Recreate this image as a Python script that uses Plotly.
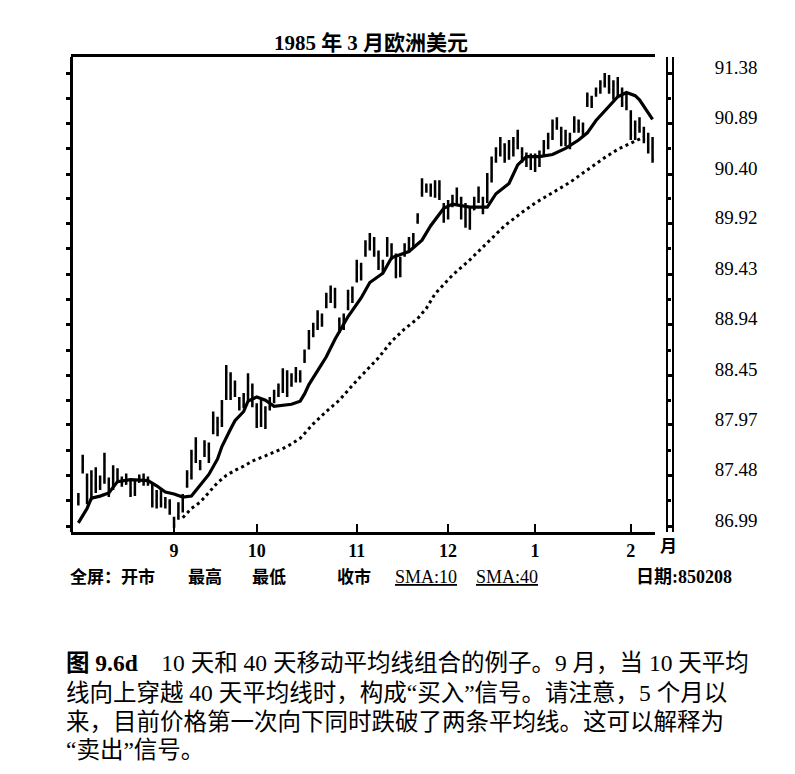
import plotly.graph_objects as go

# trading day index 0 = 1 Aug 1984, last bar = 8 Feb 1985
bar_days = list(range(1, 134))

bar_open = [87.22, 87.55, 87.45, 87.30, 87.40, 87.38, 87.45, 87.40, 87.38, 87.50,
            87.44, 87.40, 87.42, 87.32, 87.42, 87.44, 87.42, 87.38, 87.24, 87.26,
            87.20, 87.22, 87.06, 87.08, 87.16, 87.38, 87.48, 87.65, 87.60, 87.68,
            87.76, 87.92, 88.00, 88.00, 88.25, 88.45, 88.30, 88.20, 88.16, 88.26,
            88.34, 88.14, 88.00, 88.10, 88.14, 88.20, 88.26, 88.32, 88.45, 88.36,
            88.42, 88.46, 88.60, 88.72, 88.84, 88.92, 89.00, 89.12, 89.20, 89.26,
            88.98, 88.92, 89.10, 89.22, 89.38, 89.50, 89.62, 89.70, 89.76, 89.62,
            89.48, 89.62, 89.70, 89.58, 89.44, 89.62, 89.68, 89.72, 89.94, 90.22,
            90.28, 90.22, 90.26, 90.20, 90.08, 89.98, 90.10, 90.14, 90.16, 90.02,
            89.90, 90.06, 90.14, 90.16, 90.16, 90.36, 90.54, 90.60, 90.68, 90.56,
            90.62, 90.70, 90.62, 90.56, 90.52, 90.50, 90.48, 90.60, 90.68, 90.76,
            90.86, 90.82, 90.70, 90.74, 90.84, 90.88, 90.82, 91.08, 91.12, 91.18,
            91.22, 91.28, 91.32, 91.20, 91.28, 91.20, 91.10, 90.96, 90.80, 90.86,
            90.80, 90.72, 90.66]
bar_high = [87.31, 87.68, 87.50, 87.53, 87.56, 87.48, 87.70, 87.46, 87.58, 87.55,
            87.47, 87.50, 87.45, 87.44, 87.49, 87.50, 87.47, 87.41, 87.34, 87.35,
            87.27, 87.25, 87.08, 87.22, 87.30, 87.53, 87.73, 87.85, 87.63, 87.82,
            87.80, 88.10, 88.05, 88.21, 88.55, 88.48, 88.40, 88.24, 88.28, 88.47,
            88.37, 88.18, 88.21, 88.15, 88.24, 88.31, 88.37, 88.52, 88.50, 88.47,
            88.53, 88.50, 88.70, 88.89, 88.96, 89.08, 89.05, 89.25, 89.32, 89.30,
            89.01, 89.05, 89.28, 89.31, 89.57, 89.54, 89.76, 89.83, 89.79, 89.66,
            89.57, 89.79, 89.73, 89.63, 89.60, 89.73, 89.79, 89.83, 90.02, 90.36,
            90.31, 90.31, 90.34, 90.34, 90.12, 90.15, 90.20, 90.27, 90.18, 90.12,
            90.08, 90.18, 90.28, 90.18, 90.41, 90.57, 90.66, 90.76, 90.70, 90.73,
            90.76, 90.83, 90.66, 90.61, 90.60, 90.60, 90.63, 90.73, 90.80, 90.93,
            90.95, 90.86, 90.83, 90.80, 90.96, 90.93, 90.90, 91.19, 91.16, 91.24,
            91.31, 91.38, 91.36, 91.31, 91.34, 91.24, 91.18, 91.02, 90.92, 90.95,
            90.86, 90.80, 90.76]
bar_low = [87.19, 87.50, 87.20, 87.24, 87.31, 87.34, 87.40, 87.27, 87.34, 87.41,
           87.37, 87.39, 87.27, 87.28, 87.41, 87.38, 87.38, 87.17, 87.16, 87.17,
           87.16, 87.10, 86.97, 87.05, 87.12, 87.36, 87.44, 87.60, 87.53, 87.66,
           87.60, 87.88, 87.86, 87.95, 88.21, 88.21, 88.24, 88.11, 88.13, 88.21,
           88.14, 87.94, 87.95, 87.93, 88.11, 88.18, 88.24, 88.28, 88.24, 88.34,
           88.38, 88.38, 88.57, 88.70, 88.82, 88.89, 88.92, 89.10, 89.15, 89.10,
           88.86, 88.89, 89.08, 89.15, 89.35, 89.37, 89.60, 89.66, 89.60, 89.47,
           89.44, 89.60, 89.57, 89.39, 89.40, 89.60, 89.64, 89.68, 89.92, 90.18,
           90.22, 90.18, 90.17, 90.15, 89.93, 89.96, 90.08, 90.10, 89.96, 89.88,
           89.86, 90.05, 90.12, 90.01, 90.12, 90.32, 90.51, 90.57, 90.51, 90.54,
           90.57, 90.64, 90.51, 90.47, 90.44, 90.42, 90.47, 90.57, 90.64, 90.73,
           90.83, 90.67, 90.67, 90.64, 90.80, 90.80, 90.76, 91.05, 91.04, 91.15,
           91.18, 91.24, 91.18, 91.12, 91.15, 91.05, 91.02, 90.73, 90.73, 90.80,
           90.70, 90.60, 90.51]
bar_close = [87.28, 87.62, 87.25, 87.48, 87.36, 87.44, 87.62, 87.30, 87.52, 87.45,
             87.42, 87.46, 87.30, 87.40, 87.46, 87.42, 87.40, 87.22, 87.28, 87.20,
             87.24, 87.12, 87.00, 87.18, 87.26, 87.50, 87.68, 87.80, 87.56, 87.78,
             87.64, 88.05, 87.90, 88.18, 88.48, 88.28, 88.36, 88.14, 88.25, 88.42,
             88.18, 87.98, 88.16, 87.96, 88.21, 88.28, 88.34, 88.48, 88.28, 88.44,
             88.50, 88.40, 88.68, 88.86, 88.92, 89.04, 88.95, 89.22, 89.28, 89.14,
             88.90, 89.02, 89.24, 89.28, 89.52, 89.42, 89.72, 89.80, 89.64, 89.50,
             89.54, 89.76, 89.60, 89.42, 89.56, 89.70, 89.76, 89.80, 90.00, 90.32,
             90.25, 90.28, 90.20, 90.30, 89.96, 90.10, 90.16, 90.22, 90.00, 89.92,
             90.02, 90.14, 90.24, 90.04, 90.36, 90.52, 90.62, 90.72, 90.55, 90.68,
             90.72, 90.78, 90.54, 90.50, 90.56, 90.46, 90.58, 90.70, 90.76, 90.88,
             90.90, 90.70, 90.78, 90.68, 90.92, 90.84, 90.88, 91.16, 91.08, 91.22,
             91.28, 91.34, 91.22, 91.26, 91.20, 91.08, 91.05, 90.78, 90.88, 90.82,
             90.74, 90.64, 90.55]

# 10-day average
sma10_days = [1, 3, 4, 6, 8, 10, 13, 17, 19, 21, 23, 25, 27, 28, 29, 31, 33, 34, 36, 37,
              39, 40, 42, 44, 46, 50, 52, 53, 54, 56, 58, 60, 63, 66, 68, 71, 73, 77, 80, 82,
              85, 87, 91, 95, 97, 100, 102, 104, 107, 110, 113, 116, 118, 120, 122, 125, 127,
              129, 130, 132, 133]
sma10_vals = [87.02, 87.16, 87.26, 87.28, 87.31, 87.42, 87.44, 87.43, 87.38, 87.32, 87.30,
              87.27, 87.28, 87.33, 87.39, 87.49, 87.64, 87.76, 87.93, 88.01, 88.10, 88.20,
              88.24, 88.21, 88.15, 88.17, 88.20, 88.27, 88.36, 88.50, 88.63, 88.80, 89.02,
              89.20, 89.35, 89.44, 89.59, 89.65, 89.76, 89.90, 90.07, 90.11, 90.08, 90.08,
              90.21, 90.31, 90.49, 90.57, 90.57, 90.59, 90.65, 90.73, 90.80, 90.92, 91.01,
              91.15, 91.19, 91.16, 91.12, 91.00, 90.93]

# 40-day average
sma40_days = [25, 27, 29, 31, 33, 35, 37, 39, 41, 44, 49, 52, 55, 58, 61, 65, 70, 73, 76,
              79, 81, 83, 87, 91, 95, 99, 103, 106, 110, 114, 118, 122, 125, 128, 131]
sma40_vals = [87.07, 87.16, 87.22, 87.32, 87.41, 87.48, 87.53, 87.57, 87.62, 87.67, 87.76,
              87.84, 87.98, 88.10, 88.21, 88.40, 88.62, 88.78, 88.90, 89.00, 89.10, 89.24,
              89.42, 89.57, 89.73, 89.90, 90.03, 90.12, 90.22, 90.32, 90.44, 90.56, 90.64,
              90.70, 90.76]

month_days = [23, 42, 65, 86, 106, 128]
month_labels = ['9', '10', '11', '12', '1', '2']

price_ticks = [86.99, 87.48, 87.97, 88.45, 88.94, 89.43, 89.92, 90.40, 90.89, 91.38]
price_labels = ['86.99', '87.48', '87.97', '88.45', '88.94', '89.43', '89.92', '90.40',
                '90.89', '91.38']

caption_lines = [
    '<b>图 9.6d</b>\u00a0\u00a0\u00a0 10 天和 40 天移动平均线组合的例子。9 月，当 10 天平均',
    '线向上穿越 40 天平均线时，构成“买入”信号。请注意，5 个月以',
    '来，目前价格第一次向下同时跌破了两条平均线。这可以解释为',
    '“卖出”信号。',
]

W, H = 795, 774
L, T = 71, 57          # plot area left / top in pixels
RIGHT, BOTTOM = 673, 532
PW, PH = RIGHT - L, BOTTOM - T
YR = [86.932, 91.535]
XR = [-0.69, 133.56]

SERIF = 'Liberation Serif, Noto Sans CJK SC'
CJK = 'Liberation Serif, Noto Sans CJK SC'


def px_x(p):
    return (p - L) / PW


def px_y(p):
    return (BOTTOM - p) / PH


minor_ticks = [(a + b) / 2 for a, b in zip(price_ticks[:-1], price_ticks[1:])]
all_ticks = sorted(price_ticks + minor_ticks)

fig = go.Figure()
fig.add_trace(go.Ohlc(x=bar_days, open=bar_open, high=bar_high, low=bar_low, close=bar_close,
                      increasing=dict(line=dict(color='black', width=2.5)),
                      decreasing=dict(line=dict(color='black', width=2.5)),
                      tickwidth=0.3, showlegend=False, hoverinfo='skip'))
fig.add_trace(go.Scatter(x=sma10_days, y=sma10_vals, mode='lines', yaxis='y2',
                         line=dict(color='black', width=3.2), showlegend=False))
fig.add_trace(go.Scatter(x=sma40_days, y=sma40_vals, mode='lines', yaxis='y3',
                         line=dict(color='black', width=3, dash='3px,3.5px'), showlegend=False))

ax_common = dict(range=YR, showgrid=False, zeroline=False, linecolor='black')

fig.update_layout(
    width=W, height=H,
    margin=dict(l=L, r=W - RIGHT, t=T, b=H - BOTTOM, autoexpand=False),
    paper_bgcolor='white', plot_bgcolor='white',
    showlegend=False,
    title=dict(text='<b>1985 年 3 月欧洲美元</b>', x=371 / W, xanchor='center',
               y=1 - 43 / H, yanchor='middle', font=dict(family=CJK, size=21, color='black')),
    xaxis=dict(domain=[0, px_x(655)], range=XR, showgrid=False, zeroline=False,
               rangeslider=dict(visible=False),
               showline=True, linewidth=3, linecolor='black', mirror=True,
               ticks='inside', ticklen=8, tickwidth=2, tickcolor='black',
               tickvals=month_days, ticktext=['<b>%s</b>' % m for m in month_labels],
               tickfont=dict(family=SERIF, size=18, color='black')),
    yaxis=dict(anchor='free', position=px_x(667), side='right', showline=True, linewidth=2,
               ticks='outside', ticklen=6, tickwidth=3, tickcolor='black',
               tickvals=price_ticks, showticklabels=False,
               minor=dict(tickvals=minor_ticks, ticks='outside', ticklen=3, tickwidth=3,
                          tickcolor='black'),
               **ax_common),
    yaxis2=dict(overlaying='y', anchor='free', position=1.0, side='right', showline=True,
                linewidth=2, ticks='', tickvals=price_ticks, ticktext=price_labels,
                ticklabelstandoff=37, ticklabelshift=-6,
                tickfont=dict(family=SERIF, size=19, color='black'), **ax_common),
    yaxis3=dict(overlaying='y', anchor='free', position=0, side='left', showline=True,
                linewidth=3, ticks='outside', ticklen=4, tickwidth=3, tickcolor='black',
                tickvals=all_ticks, showticklabels=False, **ax_common),
    yaxis4=dict(overlaying='y', anchor='free', position=0, side='left', showline=False,
                ticks='inside', ticklen=4, tickwidth=3, tickcolor='black',
                tickvals=all_ticks, showticklabels=False, **ax_common),
)

ann = []
ann.append(dict(text='<b>月</b>', x=px_x(668), y=px_y(546), xanchor='center', yanchor='middle',
                font=dict(family=CJK, size=17)))
footer = [('<b>全屏：开市</b>', 68), ('<b>最高</b>', 186), ('<b>最低</b>', 250),
          ('<b>收市</b>', 335), ('<u>SMA:10</u>', 393), ('<u>SMA:40</u>', 474),
          ('<b>日期:850208</b>', 634)]
for txt, xp in footer:
    size = 18 if ('SMA' in txt or '日期' in txt) else 17
    ann.append(dict(text=txt, x=px_x(xp), y=px_y(577), xanchor='left', yanchor='middle',
                    font=dict(family=CJK, size=size)))
for k, line in enumerate(caption_lines):
    ann.append(dict(text=line, x=px_x(64), y=px_y([663, 693, 722, 750][k]),
                    xanchor='left', yanchor='middle', font=dict(family=CJK, size=23.5)))
for a in ann:
    a.update(xref='paper', yref='paper', showarrow=False)
    a['font']['color'] = 'black'
fig.update_layout(annotations=ann)

fig.write_html("out.html", config={'displayModeBar': False},
               post_script="document.body.style.margin='0px';")
